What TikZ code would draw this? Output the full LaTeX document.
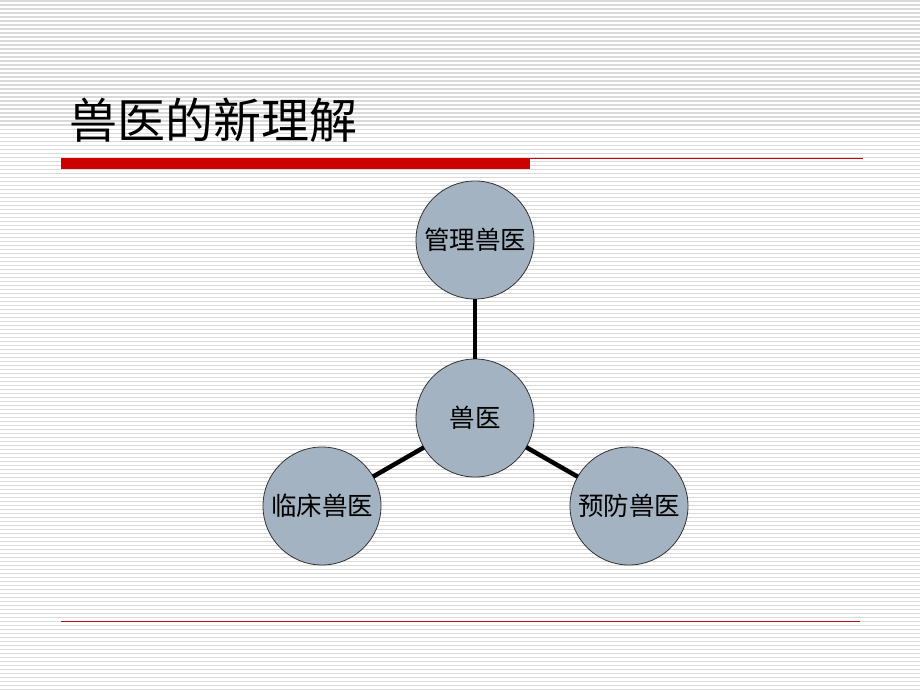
\documentclass[tikz,border=0pt]{standalone}
\usepackage{fontspec}
\newfontfamily\cjk{Noto Sans CJK SC}
\definecolor{stripe}{HTML}{DADADA}
\definecolor{barred}{HTML}{CC0000}
\definecolor{linered}{HTML}{B01010}
\definecolor{nodefill}{HTML}{A3B3C2}
\tikzset{
  bubble/.style={circle, draw=black!80, line width=0.8pt, fill=nodefill, minimum size=118pt, inner sep=0pt, font=\cjk\fontsize{25.5}{28}\selectfont},
  link/.style={line width=4.5pt, black, shorten <=-0.4pt, shorten >=-0.4pt}
}
\begin{document}
\begin{tikzpicture}[x=1pt,y=-1pt]
\useasboundingbox (0,0) rectangle (920,690);
\fill[white] (0,0) rectangle (920,690);
\foreach \i in {0,...,172} {
  \fill[stripe] (0,{4*\i+0.5}) rectangle (920,{4*\i+1.6});
}
\node[anchor=west, font=\cjk\fontsize{48}{52}\selectfont, inner sep=0pt] (title) at (69,120) {兽医的新理解};
\fill[barred] (61,158) rectangle (530,169);
\draw[barred, line width=1pt] (530,158.3) -- (863,158.3);
\draw[linered, line width=1pt] (61,621) -- (860,621);
\node[bubble] (center) at (475,418) {兽医};
\node[bubble] (top) at (475,240) {管理兽医};
\node[bubble] (left) at (322,506) {临床兽医};
\node[bubble] (right) at (629,506) {预防兽医};
\draw[link] (center) -- (top);
\draw[link] (center) -- (left);
\draw[link] (center) -- (right);
\end{tikzpicture}
\end{document}
